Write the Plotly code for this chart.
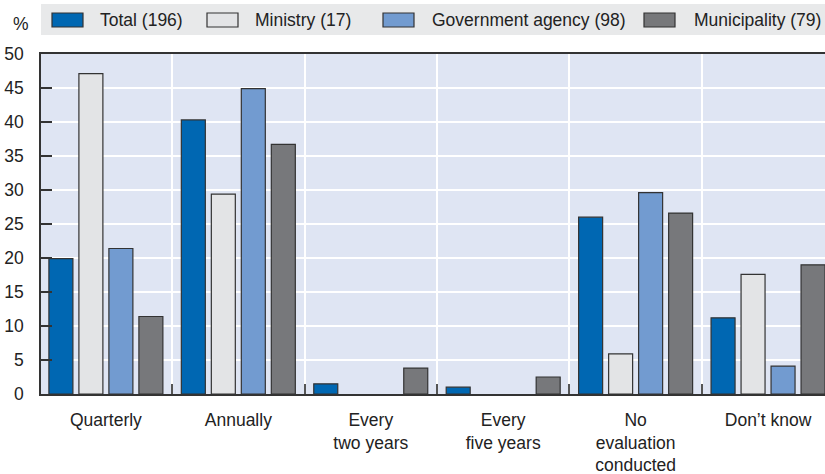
import plotly.graph_objects as go

categories = ["Quarterly", "Annually", "Every<br>two years", "Every<br>five years",
              "No<br>evaluation<br>conducted", "Don’t know"]
series_names = ["Total (196)", "Ministry (17)", "Government agency (98)", "Municipality (79)"]
total = [19.9, 40.3, 1.5, 1.0, 26.0, 11.2]
ministry = [47.1, 29.4, 0, 0, 5.9, 17.6]
agency = [21.4, 44.9, 0, 0, 29.6, 4.1]
municipality = [11.4, 36.7, 3.8, 2.5, 26.6, 19.0]
y_ticks = [0, 5, 10, 15, 20, 25, 30, 35, 40, 45, 50]

values = [total, ministry, agency, municipality]
colors = ["#0067b2", "#e3e4e6", "#729bd0", "#77787b"]
FONT = "Liberation Sans, Arial, sans-serif"
FS = 17.5

fig = go.Figure()
for name, vals, col in zip(series_names, values, colors):
    fig.add_trace(go.Bar(x=categories, y=vals, name=name, marker_color=col,
                         marker_line=dict(color="#333333",
                                          width=[0 if v == 0 else 1.2 for v in vals]),
                         showlegend=False))

W, H = 825, 474
ml, mr, mt, mb = 41, 0, 54, 80
pw, ph = W - ml - mr, H - mt - mb

def px(x):
    return (x - ml) / pw

def py(y):
    return (H - mb - y) / ph

shapes = [dict(type="rect", xref="paper", yref="paper", x0=px(41), x1=px(825),
               y0=py(35), y1=py(4), fillcolor="#e8e9ea", line_width=0, layer="below")]
annotations = [dict(text="%", xref="paper", yref="paper", x=px(11), y=py(24),
                    xanchor="left", yanchor="middle", showarrow=False,
                    font=dict(size=FS, color="#222"))]
sym_x = [52, 207, 383, 644]
txt_x = [98, 253, 430, 692]
for name, col, sx, tx in zip(series_names, colors, sym_x, txt_x):
    shapes.append(dict(type="rect", xref="paper", yref="paper", x0=px(sx), x1=px(sx + 31),
                       y0=py(27), y1=py(13), fillcolor=col,
                       line=dict(color="#333333", width=1.2)))
    annotations.append(dict(text=name, xref="paper", yref="paper", x=px(tx), y=py(20),
                            xanchor="left", yanchor="middle", showarrow=False,
                            font=dict(size=FS, color="#222")))

fig.update_layout(
    width=W, height=H,
    margin=dict(l=ml, r=mr, t=mt, b=mb, pad=0),
    paper_bgcolor="white", plot_bgcolor="#dfe5f3",
    barmode="group", bargap=0.094, bargroupgap=0.2,
    font=dict(family=FONT, size=FS, color="#222"),
    shapes=shapes, annotations=annotations,
)
fig.update_xaxes(
    range=[-0.49, 5.43], tickson="boundaries", ticks="inside", ticklen=10,
    tickcolor="#555", tickwidth=1.5, showgrid=True, gridcolor="white", gridwidth=1.5,
    showline=True, linecolor="#333", linewidth=1.5, mirror=True,
    tickfont=dict(size=FS), ticklabelstandoff=9,
)
fig.update_yaxes(
    range=[0, 50], tickvals=y_ticks, ticks="inside", ticklen=11, tickcolor="#333",
    tickwidth=1.5, showgrid=True, gridcolor="white", gridwidth=1.5,
    showline=True, linecolor="#333", linewidth=1.5, zeroline=False,
    tickfont=dict(size=FS), ticklabelstandoff=12,
)
fig.write_html("out.html")
